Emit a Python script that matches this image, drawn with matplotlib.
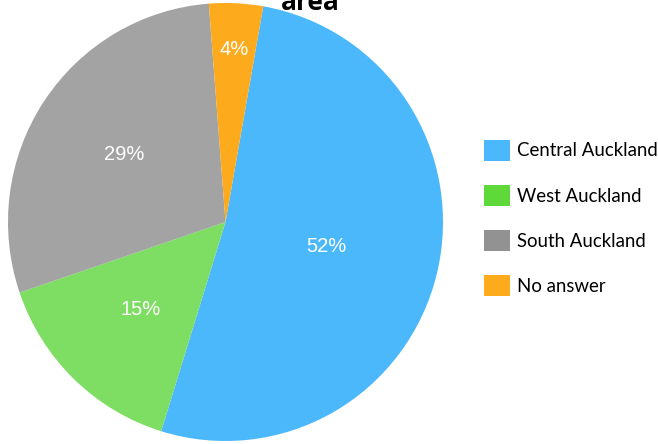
import matplotlib
matplotlib.use("Agg")
import matplotlib.pyplot as plt
from matplotlib.patches import Patch
import numpy as np

categories = ["Central Auckland", "West Auckland", "South Auckland", "No answer"]
values = [52, 15, 29, 4]
pie_colors = ["#4BB8FB", "#7EDD63", "#A3A3A3", "#FDAA1D"]
legend_colors = ["#4BB8FB", "#5FD93A", "#929292", "#FDAA1D"]
pct_labels = ["52%", "15%", "29%", "4%"]
title = "area"

W, H = 658, 444
fig = plt.figure(figsize=(W / 100, H / 100), dpi=100)

# pie axes box (pixels)
x0, x1, ytop, ybot = 8, 443, 3, 441
ax = fig.add_axes([x0 / W, 1 - ybot / H, (x1 - x0) / W, (ybot - ytop) / H])
wedges, _ = ax.pie(values, colors=pie_colors, startangle=80, counterclock=False,
                   radius=1.0, wedgeprops=dict(linewidth=0))
ax.set_aspect("auto")
ax.set_xlim(-1, 1)
ax.set_ylim(-1, 1)
ax.axis("off")

dists = [0.475, 0.56, 0.56, 0.79]
for w, lab, d in zip(wedges, pct_labels, dists):
    th = np.deg2rad((w.theta1 + w.theta2) / 2)
    ax.text(d * np.cos(th), d * np.sin(th), lab, ha="center", va="center",
            color="white", fontsize=14.5, family=["Liberation Sans", "DejaVu Sans"])

fig.text(310.5 / W, 1 - 10 / H, title, ha="center", va="baseline",
         fontsize=19, fontweight="bold", family=["Open Sans", "DejaVu Sans"])

handles = [Patch(facecolor=c, edgecolor="none") for c in legend_colors]
fig.legend(handles, categories, loc="center left",
           bbox_to_anchor=(478 / W, 1 - 218 / H), frameon=False,
           prop=dict(family=["Lato", "DejaVu Sans"], size=13.4),
           handlelength=1.4, handleheight=1.4, labelspacing=1.27,
           handletextpad=0.4, borderaxespad=0, borderpad=0.3)

fig.savefig("out.png", dpi=100)
